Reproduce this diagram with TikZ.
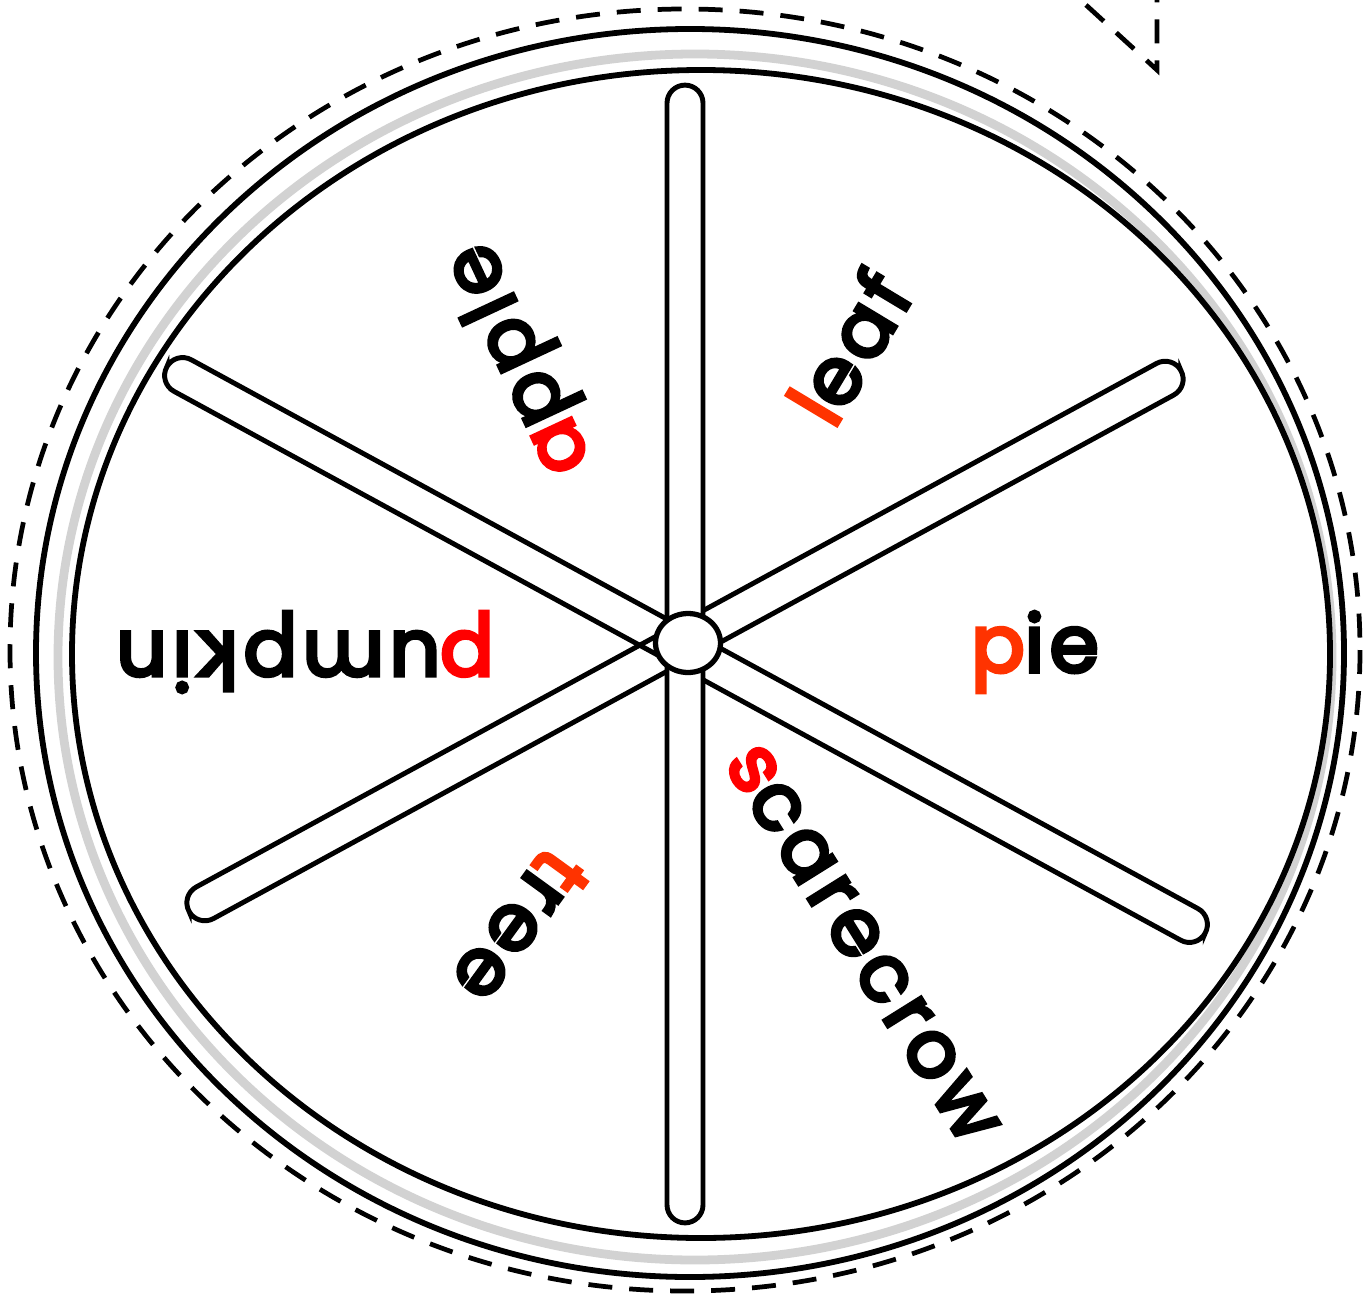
\documentclass[tikz,border=0pt]{standalone}
\usepackage{fontspec}
\setmainfont{Poppins}
\newfontfamily\wordfont{Poppins}[FakeBold=5, LetterSpace=7]
\usepackage{xcolor}
\usepackage{tikz}
\usetikzlibrary{shapes.geometric}
\definecolor{initred}{HTML}{FF0000}
\definecolor{initorange}{HTML}{FF3300}

\begin{document}
\begin{tikzpicture}[
  x=0.02cm, y=-0.02cm,
  cutline/.style={draw, line width=2.7pt, dash pattern=on 0.48cm off 0.34cm},
  rim/.style={draw, line width=3.3pt},
  spoke/.style={draw, line width=2.8pt, rounded corners=0.36cm,
    minimum height=0.72cm, inner sep=0pt, outer sep=0pt},
  word/.style={font=\wordfont\fontsize{45}{45}\selectfont, inner sep=0pt}
]
\useasboundingbox (0,0) rectangle (1371,1297);
\path[cutline] (685,650) ellipse [x radius=675, y radius=641];
\path[cutline] (1086,5) -- (1157,70) -- (1157,0);
\draw[gray!35, line width=5pt] (695,657) ellipse [x radius=637, y radius=603];
\path[rim] (690,653) ellipse [x radius=654, y radius=624];
\path[rim] (701,654) ellipse [x radius=629, y radius=584];
\node[spoke, minimum width=23.66cm, rotate=-28.6] (spokeA) at (686,650) {};
\node[spoke, minimum width=22.6cm, rotate=28.6] (spokeB) at (685,641) {};
\node[spoke, minimum width=22.76cm, rotate=90, fill=white] (spokeV) at (685,654) {};
\node[ellipse, draw, line width=3pt, fill=white, minimum width=1.3cm,
  minimum height=1.18cm] (hub) at (688,643) {};
\node[word] (pie) at (1035,652) {\textcolor{initorange}{p}ie};
\node[word, rotate=180] (pumpkin) at (305,652) {\textcolor{initred}{p}umpkin};
\node[word, rotate=115] (apple) at (522,358) {\textcolor{initred}{a}pple};
\node[word, rotate=59] (leaf) at (849,347) {\textcolor{initorange}{l}eaf};
\node[word, rotate=234] (tree) at (520,927) {\textcolor{initorange}{t}ree};
\node[word, rotate=-58] (scarecrow) at (862,944) {\textcolor{initred}{s}carecrow};
\end{tikzpicture}
\end{document}
